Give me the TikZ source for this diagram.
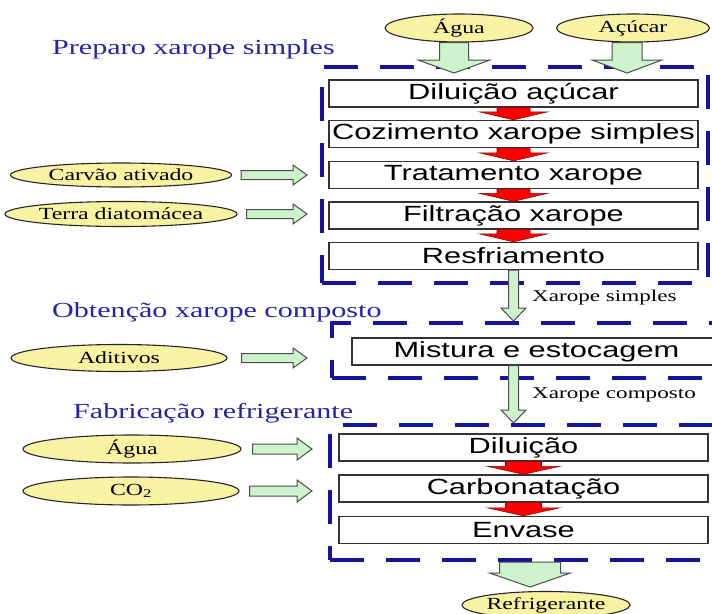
\documentclass[tikz,border=0pt]{standalone}
\usepackage{fontspec}
\setmainfont{Liberation Serif}[FakeStretch=1.4]
\setsansfont{Liberation Sans}[FakeStretch=1.4]
\usepackage{tikz}
\usetikzlibrary{shapes.geometric,calc,positioning}
\definecolor{inyellow}  {HTML}{F8F3A2}
\definecolor{feedgreen} {HTML}{CCF3CC}
\definecolor{phaseblue} {HTML}{1414A0}
\definecolor{headblue}  {HTML}{2424AA}

\newcommand{\downblock}[6]{%
  \path[#1] let \p1=(#2), \p2=(#3) in
    (\x2-#4,\y1) -- (\x2+#4,\y1) -- (\x2+#4,\y2+#6) -- (\x2+#5,\y2+#6)
    -- (\x2,\y2) -- (\x2-#5,\y2+#6) -- (\x2-#4,\y2+#6) -- cycle;}
\newcommand{\rightblock}[6]{%
  \path[#1] let \p1=(#2), \p2=(#3) in
    (\x1,\y1-#4) -- (\x1,\y1+#4) -- (\x2-#6,\y1+#4) -- (\x2-#6,\y1+#5)
    -- (\x2,\y1) -- (\x2-#6,\y1-#5) -- (\x2-#6,\y1-#4) -- cycle;}

\begin{document}
\begin{tikzpicture}[x=1pt,y=-1pt,
  stage/.style={draw=black!80,line width=1.3pt,fill=white,
                minimum width=369pt,minimum height=27pt,inner sep=0pt,
                font=\sffamily\fontsize{22}{24}\selectfont},
  feedin/.style={ellipse,draw=black!85,line width=1.1pt,fill=inyellow,
                 inner sep=0pt,font=\fontsize{17}{19}\selectfont},
  phase/.style={rectangle,draw=phaseblue,line width=4pt,
                dash pattern=on 34pt off 22pt,inner sep=0pt},
  heading/.style={anchor=base west,text=headblue,inner sep=0pt,
                  font=\fontsize{21.5}{24}\selectfont},
  lbl/.style={anchor=west,inner sep=0pt,font=\fontsize{16.5}{18}\selectfont},
  greenarr/.style={draw=black!70,line width=1pt,fill=feedgreen},
  redarr/.style={draw=red!60!black,line width=0.6pt,fill=red}
]
\useasboundingbox (0,0) rectangle (712,613);
\clip (0,0) rectangle (712,613);

\node[phase,minimum width=386pt,minimum height=216pt] (fr1) at (515,175)   {};
\node[phase,minimum width=458pt,minimum height=55pt]  (fr2) at (561,350.5) {};
\node[phase,minimum width=460pt,minimum height=135pt] (fr3) at (560,492.5) {};

\node[heading] (h1) at (52,54)  {Preparo xarope simples};
\node[heading] (h2) at (52,317) {Obtenção xarope composto};
\node[heading] (h3) at (73,418) {Fabricação refrigerante};

\node[stage] (dil1) at (513.5,93.5) {Diluição açúcar};
\node[stage] (coz)  at (513.5,134)  {Cozimento xarope simples};
\node[stage] (trat) at (513.5,175)  {Tratamento xarope};
\node[stage] (filt) at (513.5,215.5){Filtração xarope};
\node[stage] (resf) at (513.5,256)  {Resfriamento};
\node[stage] (mist) at (536.5,351.5){Mistura e estocagem};
\node[stage] (dil2) at (523.5,447.5){Diluição};
\node[stage] (carb) at (523.5,488.5){Carbonatação};
\node[stage] (env)  at (523.5,530)  {Envase};

\node[feedin,minimum width=148pt,minimum height=28pt] (agua)  at (459,28)  {Água};
\node[feedin,minimum width=153pt,minimum height=28pt] (acuc)  at (633,28)  {Açúcar};
\node[feedin,minimum width=221pt,minimum height=24pt] (carv)  at (121,175) {Carvão ativado};
\node[feedin,minimum width=221pt,minimum height=25pt] (terra) at (121,214) {Terra diatomácea};
\node[feedin,minimum width=216pt,minimum height=27pt] (adit)  at (119,358) {Aditivos};
\node[feedin,minimum width=218pt,minimum height=28pt] (agua2) at (132,449) {Água};
\node[feedin,minimum width=216pt,minimum height=28pt] (co2)   at (131,491) {CO\textsubscript{2}};
\node[feedin,minimum width=153pt,minimum height=27pt] (refri) at (546,605) {Refrigerante};

\coordinate (inA)  at (454,73);
\coordinate (inB)  at (627,73);
\coordinate (outT) at (530,587);

\downblock{greenarr}{agua.south}{inA}{14.5pt}{36pt}{13pt}
\downblock{greenarr}{acuc.south}{inB}{15pt}{35pt}{13pt}

\downblock{redarr}{dil1.south}{coz.north}{16.5pt}{34pt}{8pt}
\downblock{redarr}{coz.south}{trat.north}{16.5pt}{34pt}{8pt}
\downblock{redarr}{trat.south}{filt.north}{16.5pt}{34pt}{8pt}
\downblock{redarr}{filt.south}{resf.north}{16.5pt}{34pt}{8pt}
\downblock{redarr}{dil2.south}{carb.north}{18pt}{36pt}{8pt}
\downblock{redarr}{carb.south}{env.north}{18pt}{36pt}{8pt}

\rightblock{greenarr}{[xshift=9pt]carv.east}{[xshift=-13pt]fr1.west}{4.5pt}{10pt}{14pt}
\rightblock{greenarr}{[xshift=9pt]terra.east}{[xshift=-13pt]fr1.west}{4.5pt}{10pt}{14pt}
\rightblock{greenarr}{[xshift=14pt]adit.east}{[xshift=-23pt]fr2.west}{4.5pt}{10pt}{14pt}
\rightblock{greenarr}{[xshift=11pt]agua2.east}{[xshift=-16pt]fr3.west}{5pt}{11pt}{15pt}
\rightblock{greenarr}{[xshift=10pt]co2.east}{[xshift=-16pt]fr3.west}{5pt}{11pt}{15pt}

\downblock{greenarr}{resf.south}{resf.south |- fr2.north}{5pt}{12.5pt}{13pt}
\downblock{greenarr}{mist.south}{resf.south |- fr3.north}{5pt}{12.5pt}{13pt}
\node[lbl] (xs) at (532,298) {Xarope simples};
\node[lbl] (xc) at (532,395) {Xarope composto};

\downblock{greenarr}{fr3.south}{outT}{30.5pt}{40.5pt}{14pt}
\end{tikzpicture}
\end{document}
